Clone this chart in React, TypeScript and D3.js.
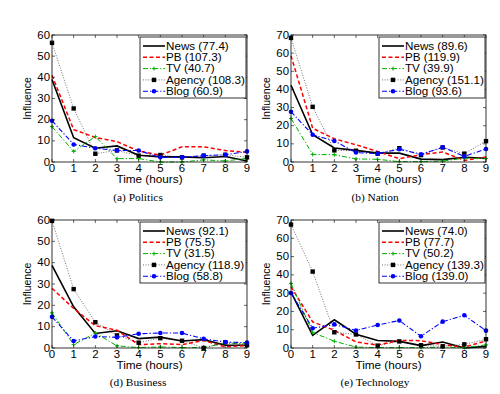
import React from "react";
import * as d3 from "d3";

const hours = [0, 1, 2, 3, 4, 5, 6, 7, 8, 9];
const seriesNames = ["News", "PB", "TV", "Agency", "Blog"];

const politicsTotals = ["77.4", "107.3", "40.7", "108.3", "60.9"];
const politicsNews = [39, 11.5, 6.5, 7.6, 3.2, 2.4, 2.4, 2, 2.6, 0.5];
const politicsPB = [41, 15.3, 11.6, 9.6, 5.2, 3.2, 7.2, 7.2, 5.4, 4.6];
const politicsTV = [16.7, 5, 12, 1.6, 1.6, 0, 0, 1, 0.5, 1.7];
const politicsAgency = [56.3, 25.3, 3.9, 5.5, 3, 3.3, 2.2, 3, 3.4, 2.2];
const politicsBlog = [19.5, 8.3, 6.5, 5.4, 5.4, 2.2, 2.2, 3, 3.4, 5];

const nationTotals = ["89.6", "119.9", "39.9", "151.1", "93.6"];
const nationNews = [42.3, 15, 7.7, 6.4, 4.9, 4.9, 1.6, 1.3, 2.6, 2];
const nationPB = [58.6, 18.6, 12.8, 9.5, 5.8, 1.8, 4, 5.5, 0.9, 2.7];
const nationTV = [24, 4.2, 4, 1.7, 1.5, 0.2, 0.2, 0.5, 2.1, 1.9];
const nationAgency = [68.4, 30.4, 6.4, 6.2, 4.6, 7.6, 3.8, 8, 4.6, 11.5];
const nationBlog = [27.7, 15, 11.6, 5.2, 4.6, 7, 4.3, 8.1, 3.1, 7.2];

const businessTotals = ["92.1", "75.5", "31.5", "118.9", "58.8"];
const businessNews = [38.7, 19.3, 6.8, 8.1, 4.4, 5.1, 3.3, 3.9, 1.3, 1.3];
const businessPB = [28, 18.5, 10.5, 8.3, 1.6, 2, 1.6, 3.5, 0.5, 1.2];
const businessTV = [16.5, 1.6, 7, 1, 0.2, 0.5, 0.2, 0.2, 2.3, 2];
const businessAgency = [59.6, 27.6, 12.1, 5.9, 2.5, 4.6, 3.4, 0, 2.7, 1.3];
const businessBlog = [14.6, 3.3, 5.4, 5, 6.7, 7, 7, 4.3, 2.8, 2.5];

const technologyTotals = ["74.0", "77.7", "50.2", "139.3", "139.0"];
const technologyNews = [30.5, 6.9, 15.4, 7.5, 4.1, 3.6, 1.3, 3.3, 0, 0.9];
const technologyPB = [33.5, 14.3, 9.7, 3.3, 1.6, 4.2, 4, 1.8, 0.5, 3.9];
const technologyTV = [35.3, 8.5, 3.7, 0.5, 0.2, 0.2, 0.2, 0.5, 0.2, 1.7];
const technologyAgency = [67.5, 41.8, 8.6, 7.4, 1.3, 3.6, 1.5, 0.9, 2, 4.8];
const technologyBlog = [30.1, 10.8, 12.9, 9.6, 12.6, 15, 6.4, 14.4, 17.9, 9.5];

const politicsTicks = [0, 10, 20, 30, 40, 50, 60];
const nationTicks = [0, 10, 20, 30, 40, 50, 60, 70];

type Panel = {
  caption: string;
  x0: number; x1: number; y0: number; y1: number; ymax: number;
  yTicks: number[];
  totals: string[];
  data: number[][];
  capX: number; capY: number;
};

const panels: Panel[] = [
  { caption: "(a)  Politics", x0: 52, x1: 247, y0: 35, y1: 162, ymax: 60, yTicks: politicsTicks, totals: politicsTotals,
    data: [politicsNews, politicsPB, politicsTV, politicsAgency, politicsBlog], capX: 138, capY: 201 },
  { caption: "(b)  Nation", x0: 291, x1: 486, y0: 35, y1: 162, ymax: 70, yTicks: nationTicks, totals: nationTotals,
    data: [nationNews, nationPB, nationTV, nationAgency, nationBlog], capX: 375, capY: 201 },
  { caption: "(d)  Business", x0: 52, x1: 247, y0: 220, y1: 348, ymax: 60, yTicks: politicsTicks, totals: businessTotals,
    data: [businessNews, businessPB, businessTV, businessAgency, businessBlog], capX: 138, capY: 386 },
  { caption: "(e)  Technology", x0: 291, x1: 486, y0: 220, y1: 348, ymax: 70, yTicks: nationTicks, totals: technologyTotals,
    data: [technologyNews, technologyPB, technologyTV, technologyAgency, technologyBlog], capX: 375, capY: 386 },
];

const styles = [
  { color: "#000000", width: 1.6, dash: "none", marker: "none" },
  { color: "#ff0000", width: 1.5, dash: "4,2.5", marker: "none" },
  { color: "#00b000", width: 1, dash: "5,2,1.2,2", marker: "plus" },
  { color: "#000000", width: 0.8, dash: "1,1.6", marker: "square", opacity: 0.7 },
  { color: "#0000ff", width: 1.1, dash: "5,2,1.2,2", marker: "circle" },
];

const SANS = "'Liberation Sans', Arial, Helvetica, sans-serif";
const SERIF = "'Liberation Serif', 'Times New Roman', serif";
const SX = 1.12;

function Marker({ kind, x, y, color }: { kind: string; x: number; y: number; color: string }) {
  if (kind === "square") return <rect x={x - 2.2} y={y - 2.2} width={4.4} height={4.4} fill="#000" />;
  if (kind === "circle") return <circle cx={x} cy={y} r={2.3} fill={color} />;
  if (kind === "plus")
    return (
      <g stroke={color} strokeWidth={1}>
        <line x1={x - 2} x2={x + 2} y1={y} y2={y} />
        <line x1={x} x2={x} y1={y - 2} y2={y + 2} />
      </g>
    );
  return null;
}

function Text({ x, y, anchor, children, size = 10, family = SANS }: any) {
  return (
    <text transform={`translate(${x},${y}) scale(${SX},1)`} textAnchor={anchor} fontFamily={family} fontSize={size} fill="#000">
      {children}
    </text>
  );
}

function PanelView({ p }: { p: Panel }) {
  const x = d3.scaleLinear().domain([0, 9]).range([p.x0, p.x1]);
  const y = d3.scaleLinear().domain([0, p.ymax]).range([p.y1, p.y0]);
  const line = d3.line<number>().x((_, i) => x(hours[i])).y((d) => y(d));
  const tl = 3;
  const lx = p.x1 - 107;
  const ly = p.y0 + 2;
  return (
    <g>
      {p.data.map((s, k) => {
        const st: any = styles[k];
        return (
          <g key={k}>
            <path d={line(s) || ""} fill="none" stroke={st.color} strokeWidth={st.width}
              strokeDasharray={st.dash} strokeOpacity={st.opacity ?? 1} />
            {s.map((v, i) => <Marker key={i} kind={st.marker} x={x(hours[i])} y={y(v)} color={st.color} />)}
          </g>
        );
      })}
      <rect x={p.x0} y={p.y0} width={p.x1 - p.x0} height={p.y1 - p.y0} fill="none" stroke="#000" strokeWidth={0.8} />
      {hours.map((h) => (
        <g key={h}>
          <line x1={x(h)} x2={x(h)} y1={p.y1} y2={p.y1 - tl} stroke="#000" strokeWidth={0.6} />
          <line x1={x(h)} x2={x(h)} y1={p.y0} y2={p.y0 + tl} stroke="#000" strokeWidth={0.6} />
          <Text x={x(h)} y={p.y1 + 10} anchor="middle" size={10.2}>{h}</Text>
        </g>
      ))}
      {p.yTicks.map((t) => (
        <g key={t}>
          <line x1={p.x0} x2={p.x0 + tl} y1={y(t)} y2={y(t)} stroke="#000" strokeWidth={0.6} />
          <line x1={p.x1} x2={p.x1 - tl} y1={y(t)} y2={y(t)} stroke="#000" strokeWidth={0.6} />
          <Text x={p.x0 - 2} y={y(t) + 3.6} anchor="end" size={10.2}>{t}</Text>
        </g>
      ))}
      <Text x={(p.x0 + p.x1) / 2} y={p.y1 + 20.5} anchor="middle" size={10.5}>Time (hours)</Text>
      <text transform={`translate(${p.x0 - 21},${(p.y0 + p.y1) / 2}) rotate(-90)`} textAnchor="middle"
        fontFamily={SANS} fontSize={10.5}>Influence</text>
      <rect x={lx} y={ly} width={106} height={61} fill="#fff" stroke="#000" strokeWidth={0.8} />
      {seriesNames.map((n, k) => {
        const st: any = styles[k];
        const ry = ly + 9 + k * 11.3;
        return (
          <g key={n}>
            <line x1={lx + 3} x2={lx + 25} y1={ry} y2={ry} stroke={st.color} strokeWidth={st.width}
              strokeDasharray={st.dash} strokeOpacity={st.opacity ?? 1} />
            <Marker kind={st.marker} x={lx + 14} y={ry} color={st.color} />
            <Text x={lx + 26} y={ry + 3.7} anchor="start" size={10.4}>{`${n} (${p.totals[k]})`}</Text>
          </g>
        );
      })}
      <Text x={p.capX} y={p.capY} anchor="middle" family={SERIF} size={10.2}>{p.caption}</Text>
    </g>
  );
}

export default function App() {
  return (
    <svg width={500} height={394} style={{ position: "absolute", left: 0, top: 0, background: "#fff" }}>
      <rect width={500} height={394} fill="#fff" />
      {panels.map((p, i) => <PanelView key={i} p={p} />)}
    </svg>
  );
}
